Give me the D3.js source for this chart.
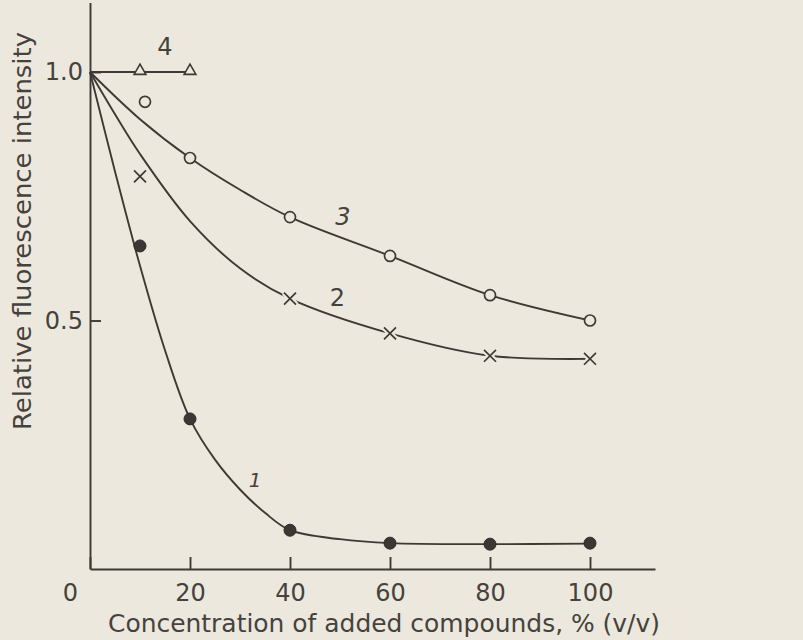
<!DOCTYPE html>
<html>
<head>
<meta charset="utf-8">
<script src="https://cdn.jsdelivr.net/npm/d3@7"></script>
<style>
  html, body { margin: 0; padding: 0; background: #ece8dd; }
  svg { display: block; }
  .axis path, .axis line { stroke: #3d3a36; stroke-width: 1.9; }
  .axis text { font-family: 'DejaVu Sans', sans-serif; font-size: 24px; fill: #45423e; }
</style>
</head>
<body>
<div id="chart"></div>
<script>
/* =========================================
   Relative fluorescence vs concentration
   of added compounds (curves 1-4)
   ========================================= */

// ---- Data ----
const xTicks = [0, 20, 40, 60, 80, 100];
const yTicks = [0.5, 1.0];

// measured points
const conc1 = [10, 20, 40, 60, 80, 100];
const vals1 = [0.65, 0.302, 0.078, 0.052, 0.05, 0.052];
const conc2 = [10, 40, 60, 80, 100];
const vals2 = [0.79, 0.544, 0.474, 0.429, 0.423];
const conc3 = [11, 20, 40, 60, 80, 100];
const vals3 = [0.94, 0.827, 0.708, 0.630, 0.551, 0.50];
const conc4 = [10, 20];
const vals4 = [1.0, 1.0];

// drawn curves
const curveConc1 = [0, 5, 10, 15, 20, 25, 30, 35, 40, 50, 60, 80, 100];
const curveVals1 = [1.0, 0.80, 0.61, 0.44, 0.302, 0.22, 0.16, 0.113, 0.078, 0.06, 0.052, 0.05, 0.051];
const curveConc2 = [0, 5, 10, 20, 30, 40, 60, 80, 100];
const curveVals2 = [1.0, 0.915, 0.835, 0.70, 0.605, 0.544, 0.474, 0.429, 0.423];
const curveConc3 = [0, 10, 20, 30, 40, 60, 80, 100];
const curveVals3 = [1.0, 0.905, 0.827, 0.763, 0.708, 0.630, 0.551, 0.50];
const curveConc4 = [0, 20];
const curveVals4 = [1.0, 1.0];

const curveLabels = ['1', '2', '3', '4'];

const width = 803, height = 640;
const ink = '#3d3a36';
const paper = '#ece8dd';

const svg = d3.select('#chart').append('svg')
  .attr('width', width).attr('height', height);

svg.append('rect').attr('width', width).attr('height', height).attr('fill', paper);

// ---- Scales ----
const x = d3.scaleLinear().domain([0, 113]).range([90, 655]);
const y = d3.scaleLinear().domain([0, 1.14]).range([569, 569 - 1.14 * 497]);

// ---- Axes ----
svg.append('g')
  .attr('class', 'axis')
  .attr('transform', `translate(0,${y(0)})`)
  .call(d3.axisBottom(x).tickValues(xTicks).tickSizeInner(-12).tickSizeOuter(0).tickPadding(15))
  .call(g => g.selectAll('.tick text').filter(d => d === 0).attr('dx', -20));

svg.append('g')
  .attr('class', 'axis')
  .attr('transform', `translate(${x(0)},0)`)
  .call(d3.axisLeft(y).tickValues(yTicks).tickSizeInner(-11).tickSizeOuter(0).tickPadding(7)
    .tickFormat(d3.format('.1f')));

// axis titles
svg.append('text')
  .attr('x', 108).attr('y', 632)
  .attr('font-family', "'DejaVu Sans', sans-serif")
  .attr('font-size', 24)
  .attr('fill', '#45423e')
  .attr('textLength', 552)
  .attr('lengthAdjust', 'spacingAndGlyphs')
  .text('Concentration of added compounds, % (v/v)');

svg.append('text')
  .attr('transform', 'translate(31,430) rotate(-90)')
  .attr('font-family', "'DejaVu Sans', sans-serif")
  .attr('font-size', 24)
  .attr('fill', '#45423e')
  .attr('textLength', 398)
  .attr('lengthAdjust', 'spacingAndGlyphs')
  .text('Relative fluorescence intensity');

// ---- Curves ----
const line = d3.line()
  .x(d => x(d[0]))
  .y(d => y(d[1]))
  .curve(d3.curveCatmullRom.alpha(0.5));

const curves = [
  [curveConc1, curveVals1],
  [curveConc2, curveVals2],
  [curveConc3, curveVals3],
  [curveConc4, curveVals4]
];

svg.append('g').selectAll('path')
  .data(curves.map(([c, v]) => d3.zip(c, v)))
  .join('path')
  .attr('d', line)
  .attr('fill', 'none')
  .attr('stroke', ink)
  .attr('stroke-width', 1.9);

// ---- Markers ----
// 1: filled circles
svg.append('g').selectAll('circle')
  .data(d3.zip(conc1, vals1))
  .join('circle')
  .attr('cx', d => x(d[0])).attr('cy', d => y(d[1]))
  .attr('r', 6)
  .attr('fill', '#3a3734')
  .attr('stroke', '#2f2d2a').attr('stroke-width', 1);

// 2: crosses, with a paper halo so the line breaks around them
const cross = d3.symbol().type(d3.symbolX).size(95);
const crossData = d3.zip(conc2, vals2);
svg.append('g').selectAll('path')
  .data(crossData)
  .join('path')
  .attr('transform', d => `translate(${x(d[0])},${y(d[1])})`)
  .attr('d', cross)
  .attr('fill', 'none')
  .attr('stroke', paper).attr('stroke-width', 6);
svg.append('g').selectAll('path')
  .data(crossData)
  .join('path')
  .attr('transform', d => `translate(${x(d[0])},${y(d[1])})`)
  .attr('d', cross)
  .attr('fill', 'none')
  .attr('stroke', ink).attr('stroke-width', 1.7);

// 3: open circles
svg.append('g').selectAll('circle')
  .data(d3.zip(conc3, vals3))
  .join('circle')
  .attr('cx', d => x(d[0])).attr('cy', d => y(d[1]))
  .attr('r', 5.5)
  .attr('fill', paper)
  .attr('stroke', ink).attr('stroke-width', 1.7);

// 4: open triangles
svg.append('g').selectAll('path')
  .data(d3.zip(conc4, vals4))
  .join('path')
  .attr('transform', d => `translate(${x(d[0])},${y(d[1]) - 1})`)
  .attr('d', d3.symbol().type(d3.symbolTriangle).size(60))
  .attr('fill', paper)
  .attr('stroke', ink).attr('stroke-width', 1.6);

// ---- Curve numbers ----
const labelAnchors = [[33, 0.18], [49.5, 0.546], [50.6, 0.708], [15, 1.05]];
svg.append('g').selectAll('text')
  .data(curveLabels)
  .join('text')
  .attr('x', (_, i) => x(labelAnchors[i][0]))
  .attr('y', (_, i) => y(labelAnchors[i][1]))
  .attr('text-anchor', 'middle')
  .attr('dominant-baseline', 'central')
  .attr('font-family', "'DejaVu Sans', sans-serif")
  .attr('font-size', (_, i) => i === 0 ? 20 : 24)
  .attr('font-style', (_, i) => i === 0 || i === 2 ? 'italic' : 'normal')
  .attr('fill', '#45423e')
  .text(d => d);
</script>
</body>
</html>
